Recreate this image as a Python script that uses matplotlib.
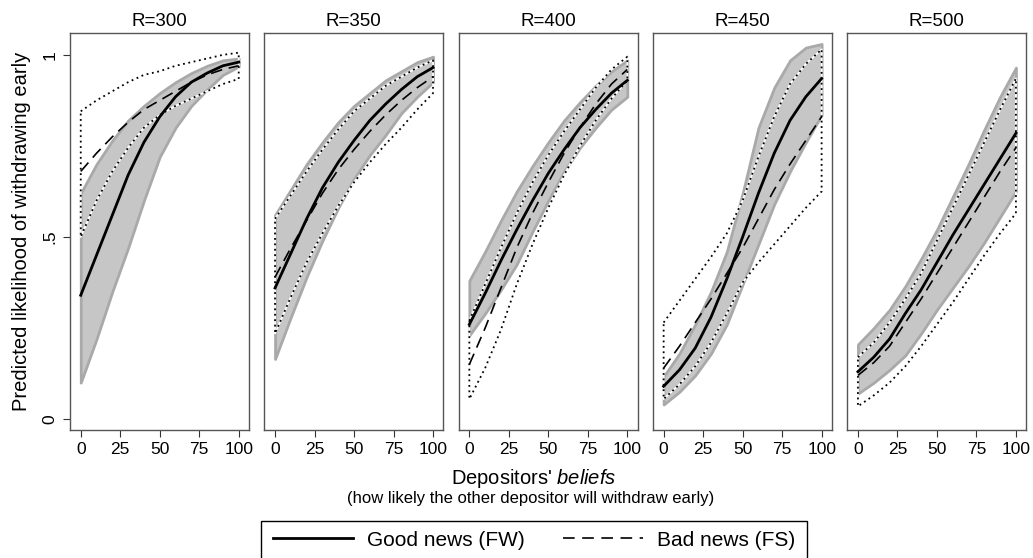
import numpy as np
import matplotlib
matplotlib.use("Agg")
import matplotlib.pyplot as plt
from matplotlib.lines import Line2D
from matplotlib.patches import Rectangle

plt.rcParams['font.family'] = ['Liberation Sans', 'DejaVu Sans']
plt.rcParams['mathtext.fontset'] = 'custom'
plt.rcParams['mathtext.rm'] = 'Liberation Sans'
plt.rcParams['mathtext.it'] = 'Liberation Sans:italic'

# x positions (depositors' beliefs)
beliefs = [0, 10, 20, 30, 40, 50, 60, 70, 80, 90, 100]
titles = ['R=300', 'R=350', 'R=400', 'R=450', 'R=500']

# good news (FW): prediction and CI band
good = [
    [0.34, 0.45, 0.56, 0.67, 0.76, 0.83, 0.885, 0.925, 0.95, 0.97, 0.98],
    [0.36, 0.455, 0.55, 0.635, 0.705, 0.765, 0.82, 0.865, 0.905, 0.94, 0.965],
    [0.26, 0.345, 0.435, 0.52, 0.60, 0.675, 0.74, 0.80, 0.85, 0.895, 0.93],
    [0.09, 0.135, 0.195, 0.28, 0.385, 0.50, 0.62, 0.73, 0.82, 0.885, 0.935],
    [0.13, 0.17, 0.22, 0.29, 0.355, 0.43, 0.505, 0.575, 0.645, 0.715, 0.785],
]
good_hi = [
    [0.62, 0.70, 0.765, 0.82, 0.86, 0.895, 0.925, 0.95, 0.97, 0.985, 0.99],
    [0.56, 0.63, 0.70, 0.76, 0.815, 0.86, 0.895, 0.93, 0.955, 0.98, 0.995],
    [0.38, 0.46, 0.545, 0.625, 0.695, 0.76, 0.82, 0.87, 0.915, 0.955, 0.985],
    [0.117, 0.18, 0.26, 0.35, 0.46, 0.62, 0.80, 0.91, 0.985, 1.02, 1.03],
    [0.205, 0.25, 0.30, 0.365, 0.44, 0.52, 0.61, 0.70, 0.795, 0.885, 0.965],
]
good_lo = [
    [0.10, 0.22, 0.35, 0.47, 0.60, 0.72, 0.80, 0.86, 0.905, 0.945, 0.968],
    [0.165, 0.28, 0.39, 0.49, 0.58, 0.66, 0.725, 0.78, 0.84, 0.885, 0.925],
    [0.23, 0.29, 0.355, 0.425, 0.515, 0.60, 0.68, 0.745, 0.80, 0.85, 0.885],
    [0.04, 0.075, 0.12, 0.18, 0.26, 0.37, 0.48, 0.59, 0.68, 0.76, 0.835],
    [0.07, 0.10, 0.135, 0.175, 0.235, 0.30, 0.36, 0.42, 0.485, 0.555, 0.625],
]

# bad news (FS): prediction and CI
bad = [
    [0.68, 0.73, 0.775, 0.815, 0.85, 0.875, 0.90, 0.925, 0.945, 0.96, 0.97],
    [0.39, 0.47, 0.545, 0.62, 0.685, 0.74, 0.79, 0.835, 0.875, 0.91, 0.94],
    [0.15, 0.25, 0.36, 0.47, 0.565, 0.65, 0.73, 0.80, 0.865, 0.92, 0.96],
    [0.14, 0.20, 0.265, 0.33, 0.40, 0.47, 0.55, 0.63, 0.70, 0.765, 0.83],
    [0.12, 0.155, 0.20, 0.265, 0.33, 0.40, 0.47, 0.54, 0.61, 0.68, 0.745],
]
bad_hi = [
    [0.845, 0.875, 0.90, 0.925, 0.945, 0.955, 0.97, 0.98, 0.99, 1.0, 1.006],
    [0.55, 0.615, 0.68, 0.74, 0.795, 0.845, 0.88, 0.915, 0.94, 0.965, 0.985],
    [0.27, 0.37, 0.47, 0.565, 0.65, 0.725, 0.79, 0.85, 0.91, 0.96, 0.995],
    [0.265, 0.325, 0.385, 0.445, 0.51, 0.60, 0.72, 0.83, 0.92, 0.975, 1.015],
    [0.17, 0.21, 0.265, 0.33, 0.40, 0.49, 0.58, 0.67, 0.76, 0.85, 0.935],
]
bad_lo = [
    [0.50, 0.60, 0.68, 0.745, 0.80, 0.835, 0.86, 0.88, 0.90, 0.92, 0.934],
    [0.235, 0.335, 0.43, 0.51, 0.585, 0.65, 0.705, 0.755, 0.80, 0.85, 0.895],
    [0.055, 0.14, 0.245, 0.37, 0.48, 0.58, 0.67, 0.75, 0.82, 0.88, 0.93],
    [0.055, 0.095, 0.145, 0.21, 0.29, 0.375, 0.43, 0.48, 0.53, 0.58, 0.625],
    [0.035, 0.065, 0.10, 0.145, 0.20, 0.26, 0.32, 0.385, 0.45, 0.51, 0.565],
]

fig = plt.figure(figsize=(10.33, 5.58), dpi=100)

x = np.array(beliefs)
left0 = 70 / 1033
w = 179 / 1033
step = 194.3 / 1033
bottom = 1 - 430 / 558
h = (430 - 33) / 558

for i in range(5):
    ax = fig.add_axes([left0 + i * step, bottom, w, h])
    # grey CI band for good news
    ax.fill_between(x, good_lo[i], good_hi[i], facecolor='#c6c6c6',
                    edgecolor='#a9a9a9', linewidth=2, zorder=1)
    # dotted CI outline for bad news (white underneath black dots)
    px = np.concatenate([x, x[::-1], x[:1]])
    py = np.concatenate([bad_hi[i], bad_lo[i][::-1], bad_hi[i][:1]])
    ax.plot(px, py, color='white', lw=1.3, zorder=2)
    ax.plot(px, py, color='black', lw=1.3, linestyle=(0, (1, 2)), zorder=3)
    ax.plot(x, good[i], color='black', lw=2, zorder=4)
    ax.plot(x, bad[i], color='black', lw=1.2, linestyle=(0, (7, 4)), zorder=4)

    ax.set_xlim(-6.8, 106.5)
    ax.set_ylim(-0.03, 1.06)
    ax.set_xticks([0, 25, 50, 75, 100])
    ax.tick_params(axis='x', direction='out', length=5, labelsize=12.5,
                   color='#333333', pad=4)
    ax.set_title(titles[i], fontsize=13.5, pad=5)
    for s in ax.spines.values():
        s.set_color('#555555')
        s.set_linewidth(1)
    if i == 0:
        ax.set_yticks([0, 0.5, 1])
        ax.set_yticklabels(['0', '.5', '1'], rotation=90, va='center')
        ax.tick_params(axis='y', direction='out', length=5, labelsize=12.5,
                       color='#333333', pad=4)
        ax.set_ylabel('Predicted likelihood of withdrawing early', fontsize=14.5,
                      labelpad=8)
    else:
        ax.set_yticks([])

fig.text(0.5165, 1 - 478 / 558, "Depositors' $\\mathit{beliefs}$", ha='center',
         va='center', fontsize=14.5)
fig.text(0.5135, 1 - 498 / 558, '(how likely the other depositor will withdraw early)',
         ha='center', va='center', fontsize=12)

# legend box runs off the bottom edge, as in the original
fig.patches.append(Rectangle((261 / 1033, -0.05), (807 - 261) / 1033,
                             1 - 521 / 558 + 0.05, transform=fig.transFigure,
                             facecolor='white', edgecolor='black', lw=1))
handles = [Line2D([], [], color='black', lw=2),
           Line2D([], [], color='black', lw=1.2, linestyle=(0, (7, 4.5)))]
fig.legend(handles, ['Good news (FW)', 'Bad news (FS)'], ncol=2,
           loc='center', bbox_to_anchor=(0.517, 1 - 540 / 558),
           frameon=False, fontsize=15, handlelength=3.85, columnspacing=1.8,
           handletextpad=0.67)

fig.savefig('out.png', dpi=100, facecolor='white')
